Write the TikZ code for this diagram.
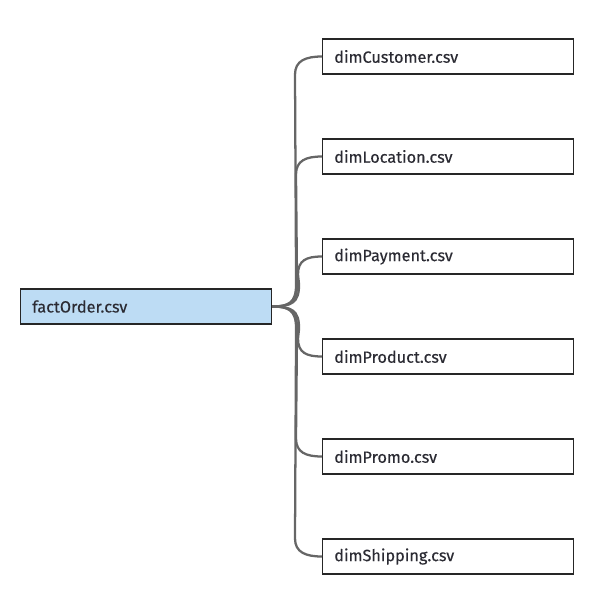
\documentclass[tikz,border=0pt]{standalone}
\usepackage{fontspec}
\setmainfont{Fira Sans}
\newfontfamily\lblfont{Fira Sans}[FakeBold=0.35]
\usetikzlibrary{shadows,calc}
\definecolor{txt}{HTML}{2B2B33}
\definecolor{lnk}{HTML}{666666}
\definecolor{factfill}{HTML}{BDDCF4}
\tikzset{
  tbl/.style={draw=black!85, line width=0.8pt, minimum width=251*0.75pt, minimum height=35*0.75pt,
    inner sep=0pt, anchor=west,
    drop shadow={shadow xshift=0.6pt, shadow yshift=-0.6pt, opacity=0.25}},
  dimbox/.style={tbl, fill=white},
  factbox/.style={tbl, fill=factfill},
  lbl/.style={anchor=west, inner sep=0pt, text=txt, font=\lblfont\fontsize{12.2}{14}\selectfont},
  link/.style={draw=lnk, line width=1.7pt},
}
\begin{document}
\begin{tikzpicture}[x=0.75pt, y=-0.75pt]
\useasboundingbox (0,0) rectangle (605,589);
\node[factbox] (fact) at (20,306.5) {};
\node[lbl] (factl) at (32,306.5) {factOrder.csv};
\foreach \n/\y/\t in {cust/56.5/dimCustomer.csv, loc/156.5/dimLocation.csv, pay/256.5/dimPayment.csv,
  prod/356.5/dimProduct.csv, promo/456.5/dimPromo.csv, ship/556.5/dimShipping.csv}{
  \node[dimbox] (\n) at (322,\y) {};
  \node[lbl] (\n l) at (334,\y) {\t};
}
% connectors
\foreach \n/\xv/\s in {cust/295/-1, loc/296/-1, pay/298/-1, prod/298/1, promo/296/1, ship/295/1}{
  \draw[link] (fact.east) .. controls ($(fact.east)+(\xv-278,0)$) and ($(fact.east)+(\xv-271,\s*4)$) ..
    ($(fact.east)+(\xv-271,\s*22)$) -- ($(\n.west)+(\xv-322,-\s*18)$) .. controls ($(\n.west)+(\xv-322,-\s*4)$) and ($(\n.west)+(-16,0)$) .. (\n.west);
}
\end{tikzpicture}
\end{document}
